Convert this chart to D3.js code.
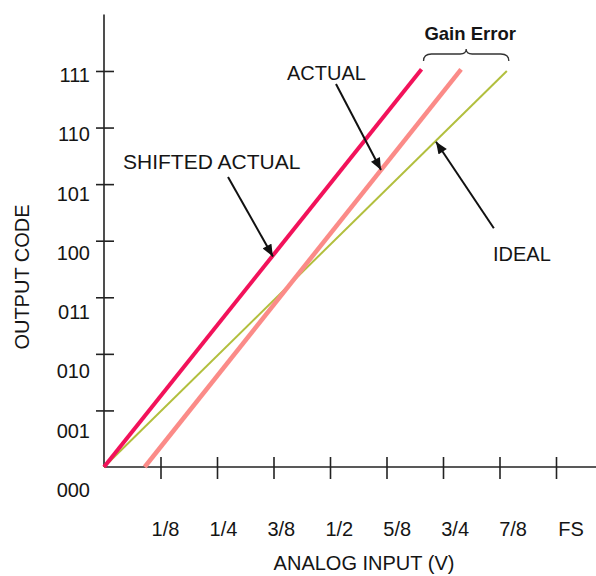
<!DOCTYPE html>
<html>
<head>
<meta charset="utf-8">
<script src="https://cdn.jsdelivr.net/npm/d3@7"></script>
<style>
  html, body { margin: 0; padding: 0; background: #fff; }
  svg { display: block; }
  text { font-family: "Liberation Sans", Arial, Helvetica, sans-serif; fill: #151515; }
</style>
</head>
<body>
<svg id="chart" width="596" height="576"></svg>
<script>
// ---- data (x in LSB = eighths of FS, y in output code) ----
const codeLabels = ["000", "001", "010", "011", "100", "101", "110", "111"];
const inputTicks = [1, 2, 3, 4, 5, 6, 7, 8];
const inputLabels = ["1/8", "1/4", "3/8", "1/2", "5/8", "3/4", "7/8", "FS"];
const idealLine = [[0, 0], [7.13, 7.0]];
const actualLine = [[0.72, 0], [6.32, 7.03]];
const shiftedLine = [[0, 0], [5.62, 7.03]];
const annotations = [
  { text: "SHIFTED ACTUAL", tail: [2.195, 5.125], tip: [2.99, 3.72] },
  { text: "ACTUAL", tail: [4.106, 6.77], tip: [4.903, 5.25] },
  { text: "IDEAL", tail: [6.90, 4.22], tip: [5.876, 5.75] }
];
const xTitle = "ANALOG INPUT (V)";
const yTitle = "OUTPUT CODE";
const braceTitle = "Gain Error";

// ---- layout ----
const svg = d3.select("#chart");
const x = d3.scaleLinear().domain([0, 8]).range([104, 556]);
const y = d3.scaleLinear().domain([0, 8]).range([467, 14.4]);
// label positions (labels in the original are spaced slightly wider than ticks)
const xLab = d3.scaleLinear().domain([1, 8]).range([165.5, 571]);
const yLab = d3.scaleLinear().domain([0, 7]).range([497, 82]);

const axisColor = "#222";

// axes lines
svg.append("line").attr("x1", x(0)).attr("x2", x(0)).attr("y1", y(0)).attr("y2", y(8))
  .attr("stroke", axisColor).attr("stroke-width", 1.6);
svg.append("line").attr("x1", x(0)).attr("x2", 596).attr("y1", y(0)).attr("y2", y(0))
  .attr("stroke", axisColor).attr("stroke-width", 1.6);

// y axis ticks
const yAxis = d3.axisLeft(y).tickValues(d3.range(1, 8)).tickSize(8).tickFormat("");
const gy = svg.append("g").attr("transform", `translate(${x(0)},0)`).call(yAxis);
gy.select(".domain").remove();
gy.selectAll(".tick line").attr("x1", 10).attr("x2", -8).attr("stroke", axisColor).attr("stroke-width", 1.6);

// x axis ticks
const xAxis = d3.axisBottom(x).tickValues(inputTicks).tickSize(12).tickFormat("");
const gx = svg.append("g").attr("transform", `translate(0,${y(0)})`).call(xAxis);
gx.select(".domain").remove();
gx.selectAll(".tick line").attr("y1", -10).attr("y2", 12).attr("stroke", axisColor).attr("stroke-width", 1.6);

// tick labels
svg.append("g").selectAll("text").data(codeLabels).join("text")
  .attr("x", 90).attr("y", (d, i) => yLab(i))
  .attr("text-anchor", "end").attr("font-size", 20).text(d => d);
svg.append("g").selectAll("text").data(inputLabels).join("text")
  .attr("x", (d, i) => xLab(inputTicks[i])).attr("y", 536)
  .attr("text-anchor", "middle").attr("font-size", 20).text(d => d);

// axis titles
svg.append("text").attr("x", 364).attr("y", 570).attr("text-anchor", "middle")
  .attr("font-size", 20).text(xTitle);
svg.append("text").attr("transform", "translate(29,277) rotate(-90)")
  .attr("text-anchor", "middle").attr("font-size", 20).text(yTitle);

// transfer lines
const line = d3.line().x(d => x(d[0])).y(d => y(d[1]));
svg.append("path").datum(idealLine).attr("d", line).attr("fill", "none")
  .attr("stroke", "#b2bf3e").attr("stroke-width", 2);
svg.append("path").datum(actualLine).attr("d", line).attr("fill", "none")
  .attr("stroke", "#fb8b88").attr("stroke-width", 4.5);
svg.append("path").datum(shiftedLine).attr("d", line).attr("fill", "none")
  .attr("stroke", "#f2125a").attr("stroke-width", 4);

// arrow marker
svg.append("defs").append("marker")
  .attr("id", "arrow").attr("markerUnits", "userSpaceOnUse")
  .attr("viewBox", "0 0 12 10").attr("refX", 12).attr("refY", 5)
  .attr("markerWidth", 13).attr("markerHeight", 10).attr("orient", "auto")
  .append("path").attr("d", "M0,0 L12,5 L0,10 Z").attr("fill", "#111");

// annotations
svg.append("g").selectAll("line").data(annotations).join("line")
  .attr("x1", d => x(d.tail[0])).attr("y1", d => y(d.tail[1]))
  .attr("x2", d => x(d.tip[0])).attr("y2", d => y(d.tip[1]))
  .attr("stroke", "#111").attr("stroke-width", 2)
  .attr("marker-end", "url(#arrow)");

const labelPos = { "SHIFTED ACTUAL": [123, 169, 21], "ACTUAL": [287, 80, 20], "IDEAL": [493, 261, 20] };
svg.append("g").selectAll("text").data(annotations).join("text")
  .attr("x", d => labelPos[d.text][0]).attr("y", d => labelPos[d.text][1])
  .attr("font-size", d => labelPos[d.text][2]).text(d => d.text);

// gain error brace
const bx0 = x(shiftedLine[1][0]) + 2, bx1 = x(idealLine[1][0]) + 2;
const bm = (bx0 + bx1) / 2, by = 54;
const brace = `M${bx0},61 Q${bx0},${by} ${bx0 + 8},${by} L${bm - 6},${by} Q${bm},${by} ${bm},${by - 5} Q${bm},${by} ${bm + 6},${by} L${bx1 - 8},${by} Q${bx1},${by} ${bx1},61`;
svg.append("path").attr("d", brace).attr("fill", "none").attr("stroke", "#333").attr("stroke-width", 1.3);
svg.append("text").attr("x", bm + 4).attr("y", 40).attr("text-anchor", "middle")
  .attr("font-size", 18.5).attr("font-weight", "bold").text(braceTitle);
</script>
</body>
</html>
